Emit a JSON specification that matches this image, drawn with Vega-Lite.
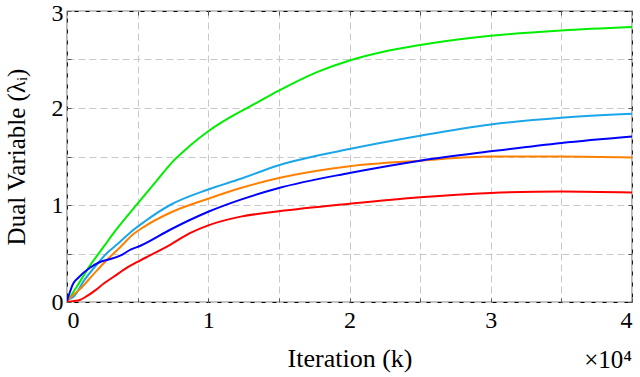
{
  "$schema": "https://vega.github.io/schema/vega-lite/v6.json",
  "width": 565,
  "height": 291,
  "autosize": {"type": "none"},
  "padding": {"left": 67, "top": 11, "right": 8, "bottom": 75},
  "background": "white",
  "config": {
    "view": {"stroke": "black", "strokeWidth": 1.2},
    "font": "Liberation Serif",
    "axis": {
      "labelFont": "Liberation Serif",
      "titleFont": "Liberation Serif",
      "labelFontSize": 24,
      "titleFontSize": 25,
      "titleFontWeight": "normal",
      "labelColor": "black",
      "titleColor": "black",
      "domain": false,
      "gridColor": "#c8c8c8",
      "gridDash": [7, 4],
      "gridWidth": 1,
      "tickColor": "#555555",
      "tickSize": -4,
      "tickWidth": 1
    }
  },
  "resolve": {"axis": {"x": "independent", "y": "independent"}},
  "datasets": {
    "lines": [
      {"s": "green", "x": 0, "y": 0}, {"s": "green", "x": 0.07, "y": 0.16}, {"s": "green", "x": 0.16, "y": 0.37}, {"s": "green", "x": 0.26, "y": 0.57}, {"s": "green", "x": 0.34, "y": 0.73}, {"s": "green", "x": 0.52, "y": 1.05}, {"s": "green", "x": 0.64, "y": 1.26}, {"s": "green", "x": 0.75, "y": 1.45}, {"s": "green", "x": 0.87, "y": 1.61}, {"s": "green", "x": 1.0, "y": 1.76}, {"s": "green", "x": 1.15, "y": 1.9}, {"s": "green", "x": 1.3, "y": 2.02}, {"s": "green", "x": 1.5, "y": 2.18}, {"s": "green", "x": 1.77, "y": 2.37}, {"s": "green", "x": 2.0, "y": 2.49}, {"s": "green", "x": 2.24, "y": 2.58}, {"s": "green", "x": 2.5, "y": 2.65}, {"s": "green", "x": 3.0, "y": 2.745}, {"s": "green", "x": 3.5, "y": 2.8}, {"s": "green", "x": 4.0, "y": 2.835},
      {"s": "cyan", "x": 0, "y": 0.02}, {"s": "cyan", "x": 0.05, "y": 0.06}, {"s": "cyan", "x": 0.12, "y": 0.22}, {"s": "cyan", "x": 0.19, "y": 0.35}, {"s": "cyan", "x": 0.28, "y": 0.5}, {"s": "cyan", "x": 0.36, "y": 0.6}, {"s": "cyan", "x": 0.45, "y": 0.72}, {"s": "cyan", "x": 0.55, "y": 0.83}, {"s": "cyan", "x": 0.73, "y": 1.0}, {"s": "cyan", "x": 1.0, "y": 1.16}, {"s": "cyan", "x": 1.23, "y": 1.27}, {"s": "cyan", "x": 1.5, "y": 1.41}, {"s": "cyan", "x": 2.0, "y": 1.577}, {"s": "cyan", "x": 2.5, "y": 1.714}, {"s": "cyan", "x": 3.0, "y": 1.83}, {"s": "cyan", "x": 3.5, "y": 1.9}, {"s": "cyan", "x": 4.0, "y": 1.94},
      {"s": "orange", "x": 0, "y": 0.01}, {"s": "orange", "x": 0.02, "y": 0.04}, {"s": "orange", "x": 0.09, "y": 0.13}, {"s": "orange", "x": 0.19, "y": 0.29}, {"s": "orange", "x": 0.28, "y": 0.43}, {"s": "orange", "x": 0.38, "y": 0.57}, {"s": "orange", "x": 0.47, "y": 0.7}, {"s": "orange", "x": 0.55, "y": 0.78}, {"s": "orange", "x": 0.73, "y": 0.92}, {"s": "orange", "x": 1.0, "y": 1.065}, {"s": "orange", "x": 1.23, "y": 1.175}, {"s": "orange", "x": 1.5, "y": 1.278}, {"s": "orange", "x": 2.0, "y": 1.4}, {"s": "orange", "x": 2.5, "y": 1.457}, {"s": "orange", "x": 3.0, "y": 1.5}, {"s": "orange", "x": 3.5, "y": 1.5}, {"s": "orange", "x": 4.0, "y": 1.49},
      {"s": "blue", "x": 0, "y": 0.01}, {"s": "blue", "x": 0.02, "y": 0.1}, {"s": "blue", "x": 0.04, "y": 0.18}, {"s": "blue", "x": 0.08, "y": 0.25}, {"s": "blue", "x": 0.16, "y": 0.35}, {"s": "blue", "x": 0.23, "y": 0.41}, {"s": "blue", "x": 0.3, "y": 0.44}, {"s": "blue", "x": 0.38, "y": 0.48}, {"s": "blue", "x": 0.45, "y": 0.54}, {"s": "blue", "x": 0.52, "y": 0.58}, {"s": "blue", "x": 0.73, "y": 0.745}, {"s": "blue", "x": 1.0, "y": 0.93}, {"s": "blue", "x": 1.23, "y": 1.055}, {"s": "blue", "x": 1.5, "y": 1.175}, {"s": "blue", "x": 2.0, "y": 1.33}, {"s": "blue", "x": 2.5, "y": 1.457}, {"s": "blue", "x": 3.0, "y": 1.553}, {"s": "blue", "x": 3.5, "y": 1.64}, {"s": "blue", "x": 4.0, "y": 1.707},
      {"s": "red", "x": 0, "y": 0}, {"s": "red", "x": 0.05, "y": 0.01}, {"s": "red", "x": 0.09, "y": 0.02}, {"s": "red", "x": 0.14, "y": 0.06}, {"s": "red", "x": 0.2, "y": 0.12}, {"s": "red", "x": 0.26, "y": 0.19}, {"s": "red", "x": 0.33, "y": 0.26}, {"s": "red", "x": 0.42, "y": 0.35}, {"s": "red", "x": 0.52, "y": 0.43}, {"s": "red", "x": 0.73, "y": 0.59}, {"s": "red", "x": 0.87, "y": 0.71}, {"s": "red", "x": 1.0, "y": 0.79}, {"s": "red", "x": 1.23, "y": 0.88}, {"s": "red", "x": 1.5, "y": 0.935}, {"s": "red", "x": 2.0, "y": 1.013}, {"s": "red", "x": 2.5, "y": 1.08}, {"s": "red", "x": 3.0, "y": 1.124}, {"s": "red", "x": 3.5, "y": 1.14}, {"s": "red", "x": 4.0, "y": 1.13}
    ],
    "note": [{"x": 4, "y": 0, "t": "×10⁴"}]
  },
  "layer": [
    {
      "data": {"name": "lines"},
      "mark": {"type": "line", "strokeWidth": 2, "interpolate": "monotone", "clip": true},
      "encoding": {
        "x": {
          "field": "x", "type": "quantitative",
          "scale": {"domain": [0, 4], "nice": false},
          "axis": {
            "values": [0, 0.5, 1, 1.5, 2, 2.5, 3, 3.5, 4],
            "labelExpr": "datum.value % 1 === 0 ? format(datum.value, 'd') : ''",
            "title": "Iteration (k)",
            "titleFontSize": 26,
            "labelPadding": 10,
            "titlePadding": 13
          }
        },
        "y": {
          "field": "y", "type": "quantitative",
          "scale": {"domain": [0, 3], "nice": false},
          "axis": {
            "values": [0, 0.5, 1, 1.5, 2, 2.5, 3],
            "labelExpr": "datum.value % 1 === 0 ? format(datum.value, 'd') : ''",
            "labelOffset": {"condition": {"test": "datum.value === 3", "value": 2}, "value": 0},
            "title": "Dual Variable (λᵢ)",
            "labelPadding": 8,
            "titlePadding": 22
          }
        },
        "color": {
          "field": "s", "type": "nominal",
          "scale": {
            "domain": ["green", "cyan", "orange", "blue", "red"],
            "range": ["#00ee00", "#1ba6ea", "#ff8000", "#0000ff", "#ff0000"]
          },
          "legend": null
        }
      }
    },
    {
      "data": {"name": "note"},
      "mark": {"type": "text", "align": "right", "baseline": "alphabetic", "dy": 66, "fontSize": 25, "font": "Liberation Serif", "color": "black"},
      "encoding": {
        "x": {
          "field": "x", "type": "quantitative",
          "axis": {"orient": "top", "values": [0, 0.5, 1, 1.5, 2, 2.5, 3, 3.5, 4], "labels": false, "title": null, "grid": false}
        },
        "y": {
          "field": "y", "type": "quantitative",
          "axis": {"orient": "right", "values": [0, 0.5, 1, 1.5, 2, 2.5, 3], "labels": false, "title": null, "grid": false}
        },
        "text": {"field": "t"}
      }
    }
  ]
}
